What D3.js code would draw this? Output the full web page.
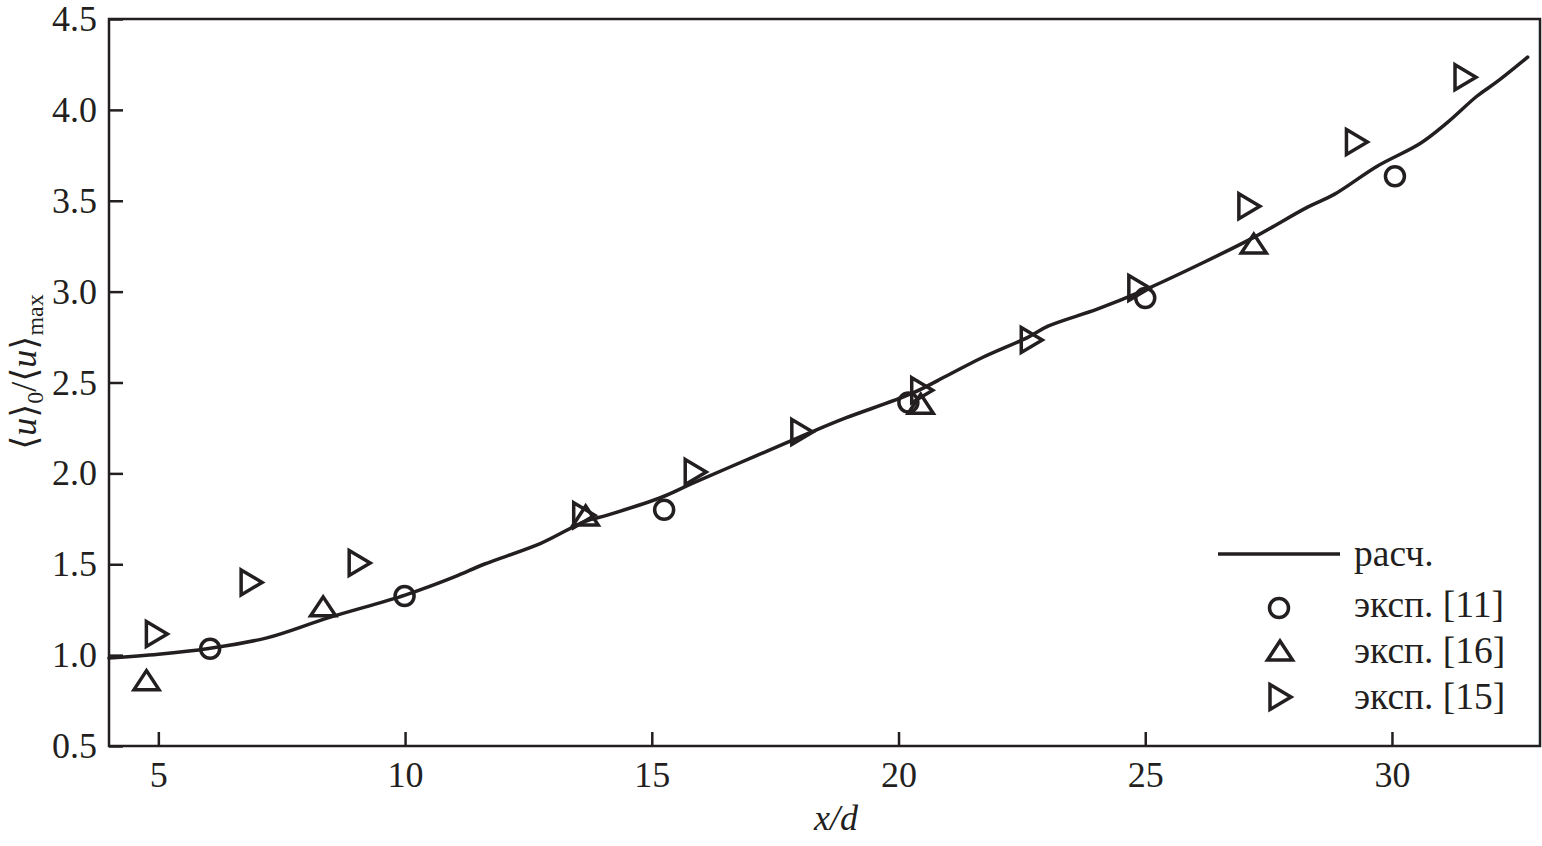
<!DOCTYPE html>
<html><head><meta charset="utf-8">
<script src="https://cdn.jsdelivr.net/npm/d3@7"></script>
<style>
html,body{margin:0;padding:0;background:#fff;}
svg text{font-family:"Liberation Serif","Times New Roman","DejaVu Serif",serif;fill:#231f20;}
</style></head>
<body><svg id="chart" width="1542" height="846"></svg>
<script>
// ---- data ----
const xTicks = [5, 10, 15, 20, 25, 30];
const yTicks = [0.5, 1.0, 1.5, 2.0, 2.5, 3.0, 3.5, 4.0, 4.5];
const calcX = [4.0, 5.0, 6.02, 7.2, 8.44, 10.0, 11.0, 11.6, 12.75, 13.64, 14.1, 15.21, 15.82, 17.11, 18.24, 18.93, 20.27, 21.0, 21.68, 22.63, 23.03, 24.04, 24.91, 26.2, 27.21, 28.29, 28.83, 29.7, 30.57, 31.12, 31.72, 32.13, 32.75];
const calcY = [0.984, 1.005, 1.037, 1.095, 1.205, 1.33, 1.43, 1.50, 1.615, 1.735, 1.77, 1.87, 1.945, 2.096, 2.228, 2.305, 2.44, 2.54, 2.635, 2.75, 2.81, 2.905, 3.0, 3.163, 3.30, 3.465, 3.535, 3.69, 3.815, 3.93, 4.075, 4.155, 4.29];
const exp11X = [6.05, 9.99, 15.25, 20.2, 25.0, 30.06];
const exp11Y = [1.035, 1.325, 1.80, 2.39, 2.965, 3.635];
const exp16X = [4.76, 8.34, 13.66, 20.45, 27.2];
const exp16Y = [0.854, 1.26, 1.76, 2.375, 3.256];
const exp15X = [4.94, 6.86, 9.05, 13.6, 15.86, 18.02, 20.45, 22.67, 24.85, 27.08, 29.26, 31.46];
const exp15Y = [1.116, 1.40, 1.507, 1.77, 2.008, 2.228, 2.458, 2.734, 3.02, 3.47, 3.823, 4.18];
const legendLabels = ["расч.", "эксп. [11]", "эксп. [16]", "эксп. [15]"];

// ---- layout ----
const L = 109, R = 1540, T = 19, B = 746;
const ink = "#231f20";
const svg = d3.select("#chart");
const x = d3.scaleLinear().domain([4, 33]).range([L, R]);
const y = d3.scaleLinear().domain([0.5, 4.5]).range([B, T]);

// frame
svg.append("rect").attr("x", L).attr("y", T).attr("width", R - L).attr("height", B - T)
  .attr("fill", "none").attr("stroke", ink).attr("stroke-width", 2.5);

// axes
const xAxis = d3.axisBottom(x).tickValues(xTicks).tickSizeInner(-14).tickSizeOuter(0).tickPadding(15).tickFormat(d3.format("d"));
const yAxis = d3.axisLeft(y).tickValues(yTicks).tickSizeInner(-14).tickSizeOuter(0).tickPadding(12).tickFormat(d3.format(".1f"));
const gx = svg.append("g").attr("transform", `translate(0,${B})`).call(xAxis);
const gy = svg.append("g").attr("transform", `translate(${L},0)`).call(yAxis);
[gx, gy].forEach(g => {
  g.select(".domain").remove();
  g.selectAll(".tick line").attr("stroke", ink).attr("stroke-width", 2.5);
  g.selectAll(".tick text").attr("font-size", 36).attr("fill", ink)
    .style("font-family", '"Liberation Serif","Times New Roman",serif');
});

// curve
const calc = calcX.map((v, i) => [v, calcY[i]]);
const line = d3.line().x(d => x(d[0])).y(d => y(d[1])).curve(d3.curveCatmullRom.alpha(0.5));
svg.append("path").datum(calc).attr("d", line).attr("fill", "none")
  .attr("stroke", ink).attr("stroke-width", 3.5).attr("stroke-linejoin", "round").attr("stroke-linecap", "round");

// markers
const upTri = "M0,-11L12.5,8L-12.5,8Z";
const rightTri = "M-9,-12.5L12,0L-9,12.5Z";
const mk = {fill: "none", stroke: ink, "stroke-width": 3.5};
function styl(sel){ Object.entries(mk).forEach(([k,v]) => sel.attr(k, v)); return sel; }

styl(svg.append("g").selectAll("circle").data(exp11X.map((v,i)=>[v, exp11Y[i]])).join("circle")
  .attr("cx", d => x(d[0])).attr("cy", d => y(d[1])).attr("r", 9.5));
styl(svg.append("g").selectAll("path").data(exp16X.map((v,i)=>[v, exp16Y[i]])).join("path")
  .attr("d", upTri).attr("transform", d => `translate(${x(d[0])},${y(d[1])})`)).attr("stroke-linejoin", "miter");
styl(svg.append("g").selectAll("path").data(exp15X.map((v,i)=>[v, exp15Y[i]])).join("path")
  .attr("d", rightTri).attr("transform", d => `translate(${x(d[0])},${y(d[1])})`)).attr("stroke-linejoin", "miter");

// legend
const lg = svg.append("g");
const rowsY = [554, 605, 651, 697];
lg.append("line").attr("x1", 1218).attr("x2", 1340).attr("y1", rowsY[0]).attr("y2", rowsY[0])
  .attr("stroke", ink).attr("stroke-width", 3.5);
styl(lg.append("circle").attr("cx", 1279).attr("cy", rowsY[1] + 3).attr("r", 9.5));
styl(lg.append("path").attr("d", upTri).attr("transform", `translate(1280,${rowsY[2] + 1})`));
styl(lg.append("path").attr("d", rightTri).attr("transform", `translate(1279,${rowsY[3]})`));
lg.selectAll("text").data(legendLabels).join("text")
  .attr("x", 1354).attr("y", (d, i) => rowsY[i] + 12).attr("font-size", 37.5).text(d => d);

// axis titles
const xl = svg.append("text").attr("x", 836).attr("y", 830).attr("text-anchor", "middle")
  .attr("font-size", 36).attr("font-style", "italic");
xl.text("x/d");

const yl = svg.append("text").attr("transform", "translate(36,372) rotate(-90)")
  .attr("text-anchor", "middle").attr("font-size", 36);
yl.append("tspan").text("⟨");
yl.append("tspan").attr("font-style", "italic").text("u");
yl.append("tspan").text("⟩");
yl.append("tspan").attr("font-size", 24).attr("dy", 7).text("0");
yl.append("tspan").attr("dy", -7).text("/⟨");
yl.append("tspan").attr("font-style", "italic").text("u");
yl.append("tspan").text("⟩");
yl.append("tspan").attr("font-size", 24).attr("dy", 7).text("max");
</script></body></html>
